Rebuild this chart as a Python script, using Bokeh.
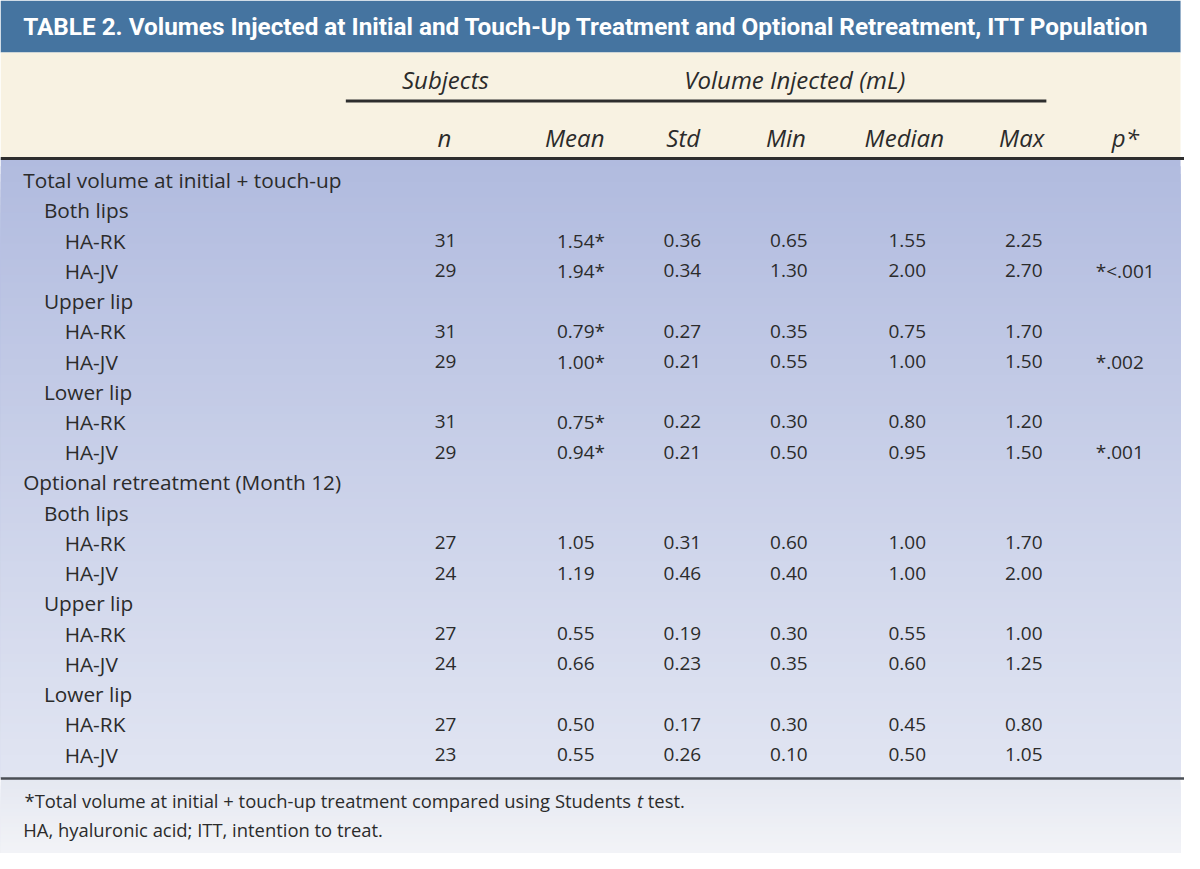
from bokeh.plotting import figure
from bokeh.models import Range1d, ColumnDataSource
from bokeh.core.properties import value
from bokeh.embed import file_html
from bokeh.resources import INLINE
import numpy as np

# ---------------- data ----------------
title = "TABLE 2.  Volumes Injected at Initial and Touch-Up Treatment and Optional Retreatment, ITT Population"
span_headers = ["Subjects", "Volume Injected (mL)"]
col_headers = ["n", "Mean", "Std", "Min", "Median", "Max", "p*"]

row_labels = ["Total volume at initial + touch-up", "Both lips", "HA-RK", "HA-JV",
              "Upper lip", "HA-RK", "HA-JV", "Lower lip", "HA-RK", "HA-JV",
              "Optional retreatment (Month 12)", "Both lips", "HA-RK", "HA-JV",
              "Upper lip", "HA-RK", "HA-JV", "Lower lip", "HA-RK", "HA-JV"]
row_level = [0, 1, 2, 2, 1, 2, 2, 1, 2, 2, 0, 1, 2, 2, 1, 2, 2, 1, 2, 2]
n_vals = ["", "", "31", "29", "", "31", "29", "", "31", "29",
          "", "", "27", "24", "", "27", "24", "", "27", "23"]
mean_vals = ["", "", "1.54*", "1.94*", "", "0.79*", "1.00*", "", "0.75*", "0.94*",
             "", "", "1.05", "1.19", "", "0.55", "0.66", "", "0.50", "0.55"]
std_vals = ["", "", "0.36", "0.34", "", "0.27", "0.21", "", "0.22", "0.21",
            "", "", "0.31", "0.46", "", "0.19", "0.23", "", "0.17", "0.26"]
min_vals = ["", "", "0.65", "1.30", "", "0.35", "0.55", "", "0.30", "0.50",
            "", "", "0.60", "0.40", "", "0.30", "0.35", "", "0.30", "0.10"]
median_vals = ["", "", "1.55", "2.00", "", "0.75", "1.00", "", "0.80", "0.95",
               "", "", "1.00", "1.00", "", "0.55", "0.60", "", "0.45", "0.50"]
max_vals = ["", "", "2.25", "2.70", "", "1.70", "1.50", "", "1.20", "1.50",
            "", "", "1.70", "2.00", "", "1.00", "1.25", "", "0.80", "1.05"]
p_vals = ["", "", "", "*<.001", "", "", "*.002", "", "", "*.001",
          "", "", "", "", "", "", "", "", "", ""]
footnote1_parts = ["*Total volume at initial + touch-up treatment compared using Students", "t", "test."]
footnote2 = "HA, hyaluronic acid; ITT, intention to treat."

# ---------------- layout / style ----------------
W, H = 1200, 869
FONT = "Open Sans"
TXT = "#2b2b2b"
p = figure(width=1184, height=853, x_range=Range1d(0, W), y_range=Range1d(H, 0),
           output_backend="svg", toolbar_location=None, min_border=0)
p.axis.visible = False
p.grid.visible = False
p.outline_line_color = None
p.background_fill_color = "white"
p.border_fill_color = "white"

# title bar
p.quad(left=0, right=1196, top=0, bottom=53, fill_color="#4574a0", line_color=None)
# header area
p.quad(left=0, right=1196, top=53, bottom=161, fill_color="#f8f2e2", line_color=None)

def gradient(y0, y1, c0, c1, steps=80):
    ys = np.linspace(y0, y1, steps + 1)[:-1]
    c0 = np.array(c0, float); c1 = np.array(c1, float)
    cols = []
    for i in range(steps):
        t = i / (steps - 1)
        c = (c0 + (c1 - c0) * t).round().astype(int)
        cols.append("#%02x%02x%02x" % tuple(c))
    # each band runs to the region's bottom; later bands cover earlier ones (no seams)
    p.quad(left=0, right=1196, top=ys, bottom=[y1] * steps, fill_color=cols, line_color=None)

gradient(161, 792, (177, 187, 223), (225, 229, 242))
gradient(792, 869, (229, 232, 241), (242, 243, 247), steps=20)

# lines
p.segment(x0=[0], y0=[161], x1=[1200], y1=[161], line_color="#2e2e2e", line_width=3)
p.segment(x0=[350], y0=[102.5], x1=[1060], y1=[102.5], line_color="#2e2e2e", line_width=3)
p.segment(x0=[0], y0=[792.5], x1=[1200], y1=[792.5], line_color="#4a4e55", line_width=2.5)

# title
p.text(x=[23], y=[26], text=[title], text_color="white",
       text_font=value("Roboto"),
       text_font_style="bold", text_font_size="24.3px", text_baseline="middle", text_align="left")

# span headers
HF = "24px"
p.text(x=[451, 805], y=[80, 80], text=span_headers, text_color=TXT, text_font=value(FONT),
       text_font_style="italic", text_font_size=HF, text_baseline="middle", text_align="center")
hdr_x = [450, 582, 692, 796, 916, 1035, 1140]
p.text(x=hdr_x, y=[140] * 7, text=col_headers, text_color=TXT, text_font=value(FONT),
       text_font_style="italic", text_font_size=HF, text_baseline="middle", text_align="center")

# body
row_y = [183 + i * 30.8 for i in range(len(row_labels))]
indent = [23, 44, 65]
src = ColumnDataSource(dict(x=[indent[l] for l in row_level], y=row_y, t=row_labels))
p.text(x="x", y="y", text="t", source=src, text_color=TXT, text_font=value(FONT),
       text_font_size="20.8px", text_baseline="middle", text_align="left")

col_x = [440, 564, 672, 780, 900, 1018, 1110]
for cx, vals in zip(col_x, [n_vals, mean_vals, std_vals, min_vals, median_vals, max_vals, p_vals]):
    s = ColumnDataSource(dict(x=[cx] * len(vals), y=row_y, t=vals))
    p.text(x="x", y="y", text="t", source=s, text_color=TXT, text_font=value(FONT),
           text_font_size="19px", text_baseline="middle", text_align="left")

# footnotes
FN = "18.4px"
p.text(x=[639], y=[815], text=[footnote1_parts[0]], text_color=TXT, text_font=value(FONT),
       text_font_size=FN, text_baseline="middle", text_align="right")
p.text(x=[645], y=[815], text=[footnote1_parts[1]], text_color=TXT, text_font=value(FONT),
       text_font_style="italic", text_font_size=FN, text_baseline="middle", text_align="left")
p.text(x=[656], y=[815], text=[footnote1_parts[2]], text_color=TXT, text_font=value(FONT),
       text_font_size=FN, text_baseline="middle", text_align="left")
p.text(x=[23], y=[845], text=[footnote2], text_color=TXT, text_font=value(FONT),
       text_font_size=FN, text_baseline="middle", text_align="left")

open("out.html", "w").write(file_html(p, INLINE))
